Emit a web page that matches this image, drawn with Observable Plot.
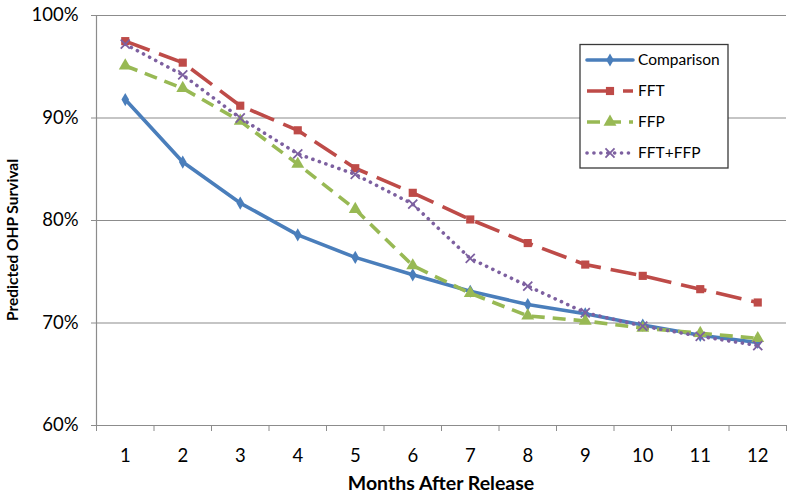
<!DOCTYPE html>
<html>
<head>
<meta charset="utf-8">
<script src="https://cdn.jsdelivr.net/npm/d3@7"></script>
<script src="https://cdn.jsdelivr.net/npm/@observablehq/plot@0.6"></script>
<style>
  html, body { margin: 0; padding: 0; background: #fff; }
  #chart { width: 795px; height: 498px; }
</style>
</head>
<body>
<div id="chart"></div>
<script>
const months = [1, 2, 3, 4, 5, 6, 7, 8, 9, 10, 11, 12];
const comparison = [91.8, 85.7, 81.7, 78.6, 76.4, 74.7, 73.1, 71.8, 70.9, 69.8, 68.8, 68.1];
const fft        = [97.5, 95.4, 91.2, 88.8, 85.1, 82.7, 80.1, 77.8, 75.7, 74.6, 73.3, 72.0];
const ffp        = [95.1, 92.9, 89.7, 85.5, 81.1, 75.6, 72.9, 70.7, 70.2, 69.5, 69.0, 68.5];
const fftffp     = [97.2, 94.2, 90.0, 86.5, 84.5, 81.6, 76.3, 73.6, 71.0, 69.7, 68.7, 67.8];
const yTicks = [60, 70, 80, 90, 100];

const seriesDefs = [
  {name: "Comparison", values: comparison, color: "#4A7EBB", dash: null, cap: "round", symbol: "diamond", r: 4.0, fill: true},
  {name: "FFT", values: fft, color: "#BE4B48", dash: "26 10", cap: "butt", symbol: "square", r: 4.6, fill: true},
  {name: "FFP", values: ffp, color: "#98B954", dash: "13 8", cap: "butt", symbol: "triangle", r: 4.8, fill: true},
  {name: "FFT+FFP", values: fftffp, color: "#7D60A0", dash: "0.1 6.8", cap: "round", symbol: "times", r: 4.2, fill: false}
];

const rows = seriesDefs.map(s => months.map((m, i) => ({month: m, value: s.values[i], series: s.name})));

const marks = [
  Plot.ruleY(yTicks.filter(d => d > 60), {stroke: "#8c8c8c", strokeWidth: 1.2}),
  Plot.ruleY([60], {stroke: "#8c8c8c", strokeWidth: 1.2}),
  Plot.ruleX([0.5], {stroke: "#8c8c8c", strokeWidth: 1.2}),
  Plot.axisY({ticks: yTicks, tickFormat: d => d + "%", tickSize: 5, tickPadding: 13, stroke: "#8c8c8c", fontSize: 18.5, label: null}),
  Plot.axisX({ticks: d3.range(0.5, 13, 1), tickFormat: () => "", tickSize: 6, stroke: "#8c8c8c", label: null}),
  Plot.axisX({ticks: months, tickFormat: d => String(d), tickSize: 0, tickPadding: 23, fontSize: 18.5, label: null})
];
seriesDefs.forEach((s, k) => {
  const opts = {x: "month", y: "value", stroke: s.color, strokeWidth: 3.6, strokeLinecap: s.cap, strokeLinejoin: "round"};
  if (s.dash) opts.strokeDasharray = s.dash;
  marks.push(Plot.line(rows[k], opts));
});
seriesDefs.forEach((s, k) => {
  const o = {x: "month", y: "value", symbol: () => s.symbol, r: s.r};
  if (s.fill) { o.fill = s.color; o.stroke = "none"; }
  else { o.stroke = s.color; o.strokeWidth = 1.8; o.fill = "none"; }
  marks.push(Plot.dot(rows[k], o));
});

const chart = Plot.plot({
  width: 795,
  height: 498,
  marginLeft: 96,
  marginRight: 9,
  marginTop: 15,
  marginBottom: 73,
  style: {fontFamily: "Lato, sans-serif", color: "#000", background: "#fff"},
  x: {type: "linear", domain: [0.5, 12.5]},
  y: {type: "linear", domain: [60, 100]},
  symbol: {type: "identity"},
  marks
});
document.getElementById("chart").appendChild(chart);

// axis titles and legend
const svg = d3.select(chart);
svg.append("text")
  .attr("x", 441).attr("y", 490)
  .attr("text-anchor", "middle")
  .attr("font-family", "Lato, sans-serif").attr("font-weight", "bold").attr("font-size", 19.5)
  .attr("fill", "#000")
  .text("Months After Release");
svg.append("text")
  .attr("transform", "translate(18,240) rotate(-90)")
  .attr("text-anchor", "middle")
  .attr("font-family", "Lato, sans-serif").attr("font-weight", "bold").attr("font-size", 15.5)
  .attr("fill", "#000")
  .text("Predicted OHP Survival");

const lg = svg.append("g");
lg.append("rect").attr("x", 580).attr("y", 44.5).attr("width", 148).attr("height", 123.5)
  .attr("fill", "#fff").attr("stroke", "#3a3a3a").attr("stroke-width", 1.3);
const rowY = [60, 91, 122, 153];
const sym = {diamond: d3.symbolDiamond, square: d3.symbolSquare, triangle: d3.symbolTriangle, times: d3.symbolTimes};
seriesDefs.forEach((s, i) => {
  const y = rowY[i];
  const ln = lg.append("line").attr("x1", 587).attr("x2", 633).attr("y1", y).attr("y2", y)
    .attr("stroke", s.color).attr("stroke-width", 3.6).attr("stroke-linecap", s.cap);
  if (s.dash) ln.attr("stroke-dasharray", s.dash);
  const area = Math.PI * s.r * s.r;
  const p = lg.append("path").attr("transform", `translate(610,${y})`)
    .attr("d", d3.symbol(sym[s.symbol], area)());
  if (s.fill) p.attr("fill", s.color);
  else p.attr("fill", "none").attr("stroke", s.color).attr("stroke-width", 1.8);
  lg.append("text").attr("x", 638).attr("y", y).attr("dy", "0.35em")
    .attr("text-anchor", "start")
    .attr("font-family", "Lato, sans-serif").attr("font-size", 15.5).attr("fill", "#000")
    .text(s.name);
});
</script>
</body>
</html>
